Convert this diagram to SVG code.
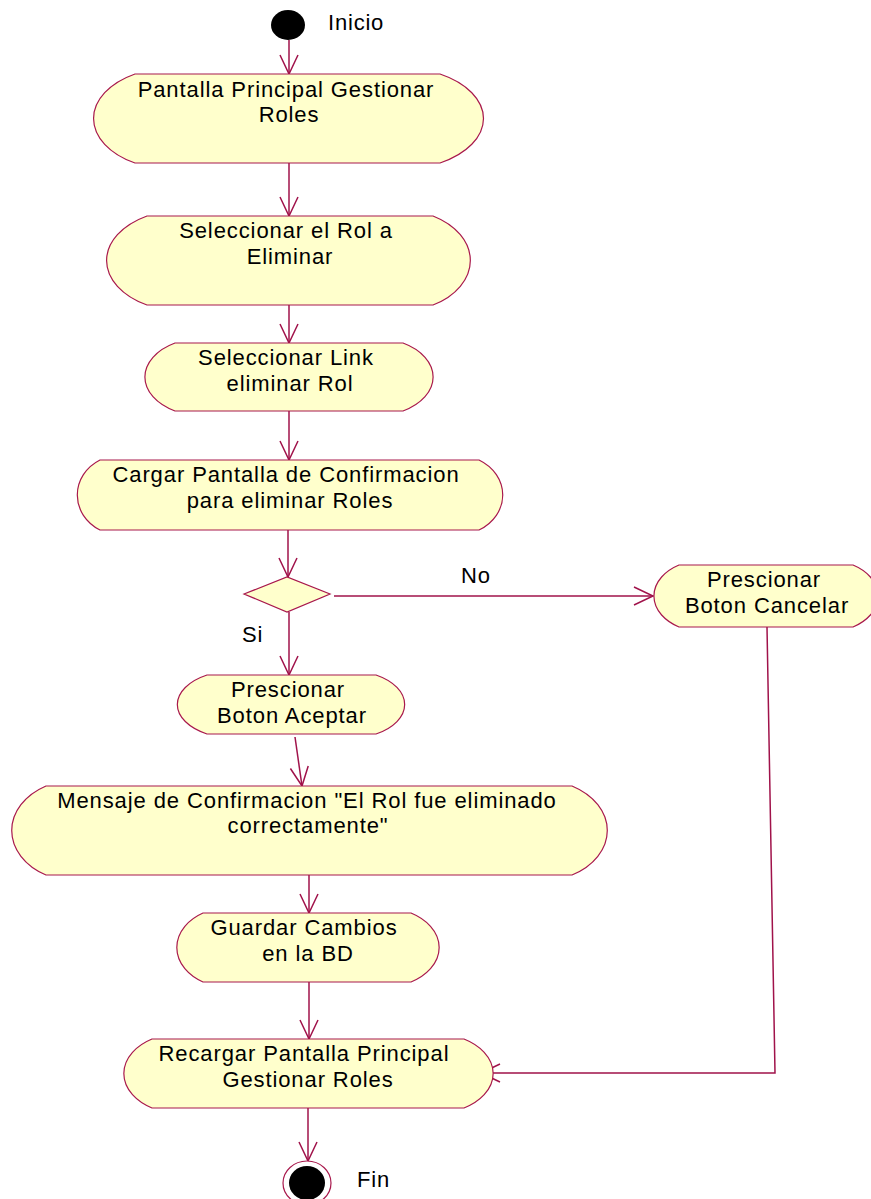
<svg xmlns="http://www.w3.org/2000/svg" width="871" height="1199" viewBox="0 0 871 1199">
<style>
.node{fill:#ffffcc;stroke:#a8184c;stroke-width:1.2}
.t{font-family:"Liberation Sans",Arial,sans-serif;font-size:22px;letter-spacing:0.9px;fill:#000;text-anchor:middle}
.l{font-family:"Liberation Sans",Arial,sans-serif;font-size:22px;letter-spacing:0.8px;fill:#000}
.c{fill:none;stroke:#a0124a;stroke-width:1.5}
</style>
<defs>
<marker id="arr" markerUnits="userSpaceOnUse" markerWidth="40" markerHeight="40" viewBox="-20 -20 40 40" refX="0" refY="0" orient="auto">
<path d="M-19,-9 L0,0 L-19,9" fill="none" stroke="#a0124a" stroke-width="1.5"/>
</marker>
</defs>
<rect width="871" height="1199" fill="#fff"/>
<g id="connectors">
<line class="c" x1="289" y1="40" x2="289" y2="74" marker-end="url(#arr)"/>
<line class="c" x1="289" y1="163" x2="289" y2="216" marker-end="url(#arr)"/>
<line class="c" x1="289" y1="305" x2="289" y2="343" marker-end="url(#arr)"/>
<line class="c" x1="289" y1="411" x2="289" y2="460" marker-end="url(#arr)"/>
<line class="c" x1="288" y1="530" x2="288" y2="577" marker-end="url(#arr)"/>
<line class="c" x1="334" y1="596" x2="653" y2="596" marker-end="url(#arr)"/>
<line class="c" x1="289" y1="612" x2="289" y2="675" marker-end="url(#arr)"/>
<line class="c" x1="295" y1="737" x2="302" y2="786" marker-end="url(#arr)"/>
<line class="c" x1="309" y1="875" x2="309" y2="913" marker-end="url(#arr)"/>
<line class="c" x1="309" y1="982" x2="309" y2="1039" marker-end="url(#arr)"/>
<polyline class="c" points="767,627 775,1073 481,1073" marker-end="url(#arr)"/>
<line class="c" x1="308" y1="1108" x2="308" y2="1161" marker-end="url(#arr)"/>
</g>
<g id="inicio">
<ellipse cx="288" cy="25" rx="17" ry="15" fill="#000"/>
<text class="l" x="328" y="30">Inicio</text>
</g>
<g id="n1">
<path class="node" d="M135,74 L440,74 A85,51 0 0 1 440,163 L135,163 A81,51 0 0 1 135,74 Z"/>
<text class="t" x="286" y="97">Pantalla Principal Gestionar</text>
<text class="t" x="289" y="122">Roles</text>
</g>
<g id="n2">
<path class="node" d="M147,216 L433,216 A73,51 0 0 1 433,305 L147,305 A79,51 0 0 1 147,216 Z"/>
<text class="t" x="286" y="238">Seleccionar el Rol a</text>
<text class="t" x="290" y="264">Eliminar</text>
</g>
<g id="n3">
<path class="node" d="M175,343 L403,343 A59,39 0 0 1 403,411 L175,411 A59,39 0 0 1 175,343 Z"/>
<text class="t" x="286" y="365">Seleccionar Link</text>
<text class="t" x="290" y="391">eliminar Rol</text>
</g>
<g id="n4">
<path class="node" d="M100,460 L479,460 A46,40 0 0 1 479,530 L100,530 A44,40 0 0 1 100,460 Z"/>
<text class="t" x="286" y="482">Cargar Pantalla de Confirmacion</text>
<text class="t" x="290" y="508">para eliminar Roles</text>
</g>
<g id="decision">
<polygon class="node" points="244,594 287,577 330,594 287,612"/>
<text class="l" x="461" y="583">No</text>
<text class="l" x="242" y="642">Si</text>
</g>
<g id="cancelar">
<path class="node" d="M679,565 L853,565 A51,36 0 0 1 853,627 L679,627 A51,36 0 0 1 679,565 Z"/>
<text class="t" x="764" y="587">Prescionar</text>
<text class="t" x="767" y="613">Boton Cancelar</text>
</g>
<g id="aceptar">
<path class="node" d="M207,675 L376,675 A57,34 0 0 1 376,734 L207,734 A59,34 0 0 1 207,675 Z"/>
<text class="t" x="288" y="697">Prescionar</text>
<text class="t" x="292" y="723">Boton Aceptar</text>
</g>
<g id="mensaje">
<path class="node" d="M46,786 L572,786 A69,51 0 0 1 572,875 L46,875 A67,51 0 0 1 46,786 Z"/>
<text class="t" x="307" y="808">Mensaje de Confirmacion "El Rol fue eliminado</text>
<text class="t" x="308" y="833">correctamente"</text>
</g>
<g id="guardar">
<path class="node" d="M203,913 L411,913 A57,40 0 0 1 411,982 L203,982 A53,40 0 0 1 203,913 Z"/>
<text class="t" x="304" y="935">Guardar Cambios</text>
<text class="t" x="308" y="961">en la BD</text>
</g>
<g id="recargar">
<path class="node" d="M152,1039 L464,1039 A59,40 0 0 1 464,1108 L152,1108 A57,40 0 0 1 152,1039 Z"/>
<text class="t" x="304" y="1061">Recargar Pantalla Principal</text>
<text class="t" x="308" y="1087">Gestionar Roles</text>
</g>
<g id="fin">
<ellipse cx="307" cy="1183" rx="24" ry="22" fill="#fff" stroke="#a8184c" stroke-width="1.2"/>
<ellipse cx="307" cy="1183" rx="18" ry="17" fill="#000"/>
<text class="l" x="357" y="1187">Fin</text>
</g>
</svg>
